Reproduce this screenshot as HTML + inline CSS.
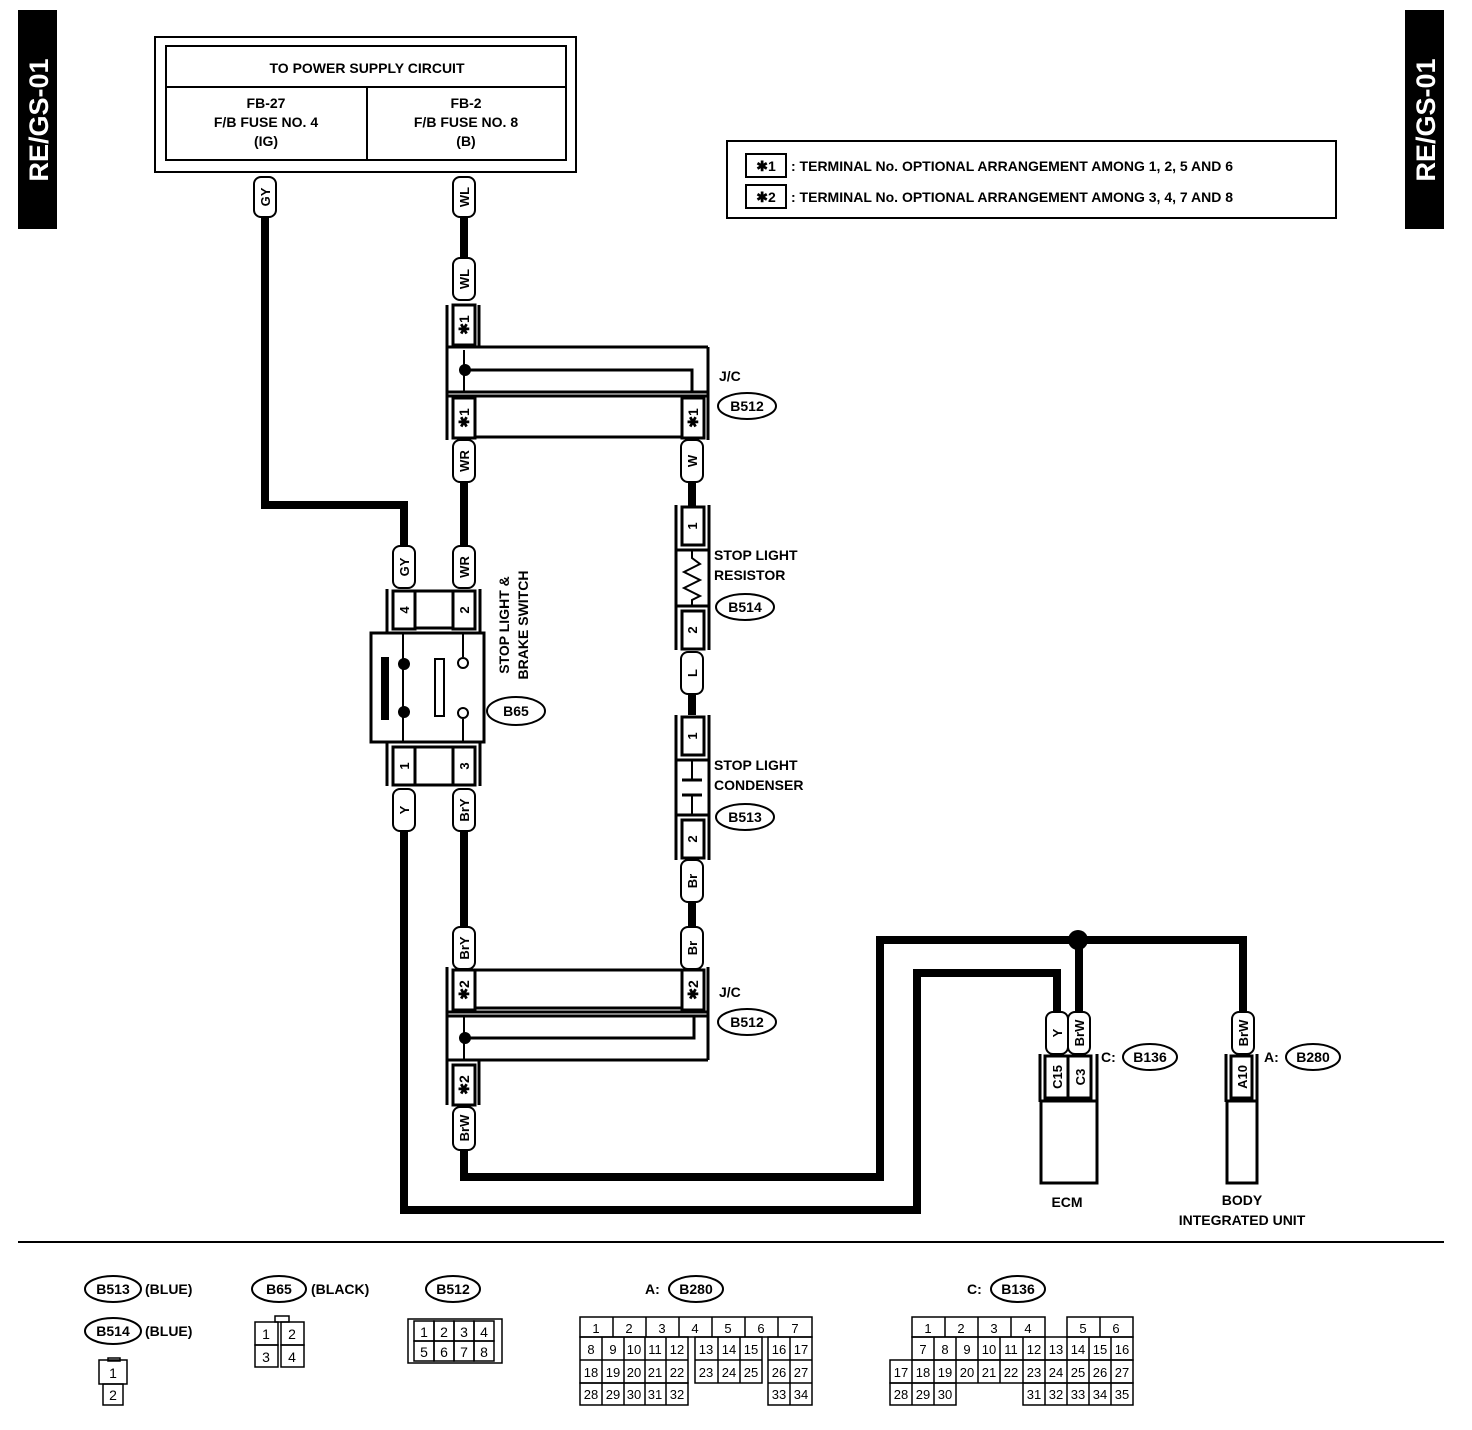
<!DOCTYPE html>
<html><head><meta charset="utf-8"><style>
html,body{margin:0;padding:0;background:#fff;}
svg{display:block;}
text{font-family:"Liberation Sans",Arial,sans-serif;font-weight:bold;fill:#000;}
.n text{font-weight:normal;}
</style></head><body>
<svg width="1472" height="1430" viewBox="0 0 1472 1430" xmlns="http://www.w3.org/2000/svg">
<rect x="18" y="10" width="39" height="219" fill="#000"/>
<text transform="translate(48,120) rotate(-90)" text-anchor="middle" font-size="27" style="fill:#fff">RE/GS-01</text>
<rect x="1405" y="10" width="39" height="219" fill="#000"/>
<text transform="translate(1435,120) rotate(-90)" text-anchor="middle" font-size="27" style="fill:#fff">RE/GS-01</text>

<rect x="155" y="37" width="421" height="135" fill="none" stroke="#000" stroke-width="2"/>
<rect x="166" y="46" width="400" height="114" fill="none" stroke="#000" stroke-width="2"/>
<line x1="166" y1="87" x2="566" y2="87" stroke="#000" stroke-width="2"/>
<line x1="367" y1="87" x2="367" y2="160" stroke="#000" stroke-width="2"/>
<text x="367" y="73" text-anchor="middle" font-size="14">TO POWER SUPPLY CIRCUIT</text>
<text x="266" y="108" text-anchor="middle" font-size="14">FB-27</text>
<text x="266" y="127" text-anchor="middle" font-size="14">F/B FUSE NO. 4</text>
<text x="266" y="146" text-anchor="middle" font-size="14">(IG)</text>
<text x="466" y="108" text-anchor="middle" font-size="14">FB-2</text>
<text x="466" y="127" text-anchor="middle" font-size="14">F/B FUSE NO. 8</text>
<text x="466" y="146" text-anchor="middle" font-size="14">(B)</text>

<rect x="727" y="141" width="609" height="77" fill="none" stroke="#000" stroke-width="2"/>
<rect x="746" y="154" width="40" height="23" fill="none" stroke="#000" stroke-width="2"/>
<text x="766" y="171" text-anchor="middle" font-size="14">✱1</text>
<text x="791" y="171" font-size="14">: TERMINAL No. OPTIONAL ARRANGEMENT AMONG 1, 2, 5 AND 6</text>
<rect x="746" y="185" width="40" height="23" fill="none" stroke="#000" stroke-width="2"/>
<text x="766" y="202" text-anchor="middle" font-size="14">✱2</text>
<text x="791" y="202" font-size="14">: TERMINAL No. OPTIONAL ARRANGEMENT AMONG 3, 4, 7 AND 8</text>

<g fill="none" stroke="#000" stroke-width="8" stroke-linejoin="miter">
<polyline points="265,216 265,505 404,505 404,546"/>
<line x1="464" y1="216" x2="464" y2="258"/>
<line x1="464" y1="482" x2="464" y2="546"/>
<line x1="692" y1="482" x2="692" y2="507"/>
<line x1="692" y1="694" x2="692" y2="715"/>
<line x1="692" y1="902" x2="692" y2="927"/>
<line x1="464" y1="830" x2="464" y2="927"/>
<polyline points="404,830 404,1210 917,1210 917,973 1057,973 1057,1012"/>
<polyline points="464,1150 464,1177 880,1177 880,940 1243,940 1243,1012"/>
<line x1="1079" y1="940" x2="1079" y2="1012"/>
</g>
<circle cx="1078" cy="940" r="10" fill="#000"/>

<g fill="#fff" stroke="#000" stroke-width="2">
<rect x="254" y="177" width="22" height="40" rx="7"/>
<rect x="453" y="177" width="22" height="40" rx="7"/>
<rect x="453" y="258" width="22" height="42" rx="7"/>
<rect x="453" y="440" width="22" height="42" rx="7"/>
<rect x="681" y="440" width="22" height="42" rx="7"/>
<rect x="393" y="546" width="22" height="42" rx="7"/>
<rect x="453" y="546" width="22" height="42" rx="7"/>
<rect x="681" y="652" width="22" height="42" rx="7"/>
<rect x="393" y="789" width="22" height="42" rx="7"/>
<rect x="453" y="789" width="22" height="42" rx="7"/>
<rect x="681" y="860" width="22" height="42" rx="7"/>
<rect x="453" y="927" width="22" height="42" rx="7"/>
<rect x="681" y="927" width="22" height="42" rx="7"/>
<rect x="453" y="1107" width="22" height="43" rx="7"/>
<rect x="1046" y="1012" width="22" height="42" rx="7"/>
<rect x="1068" y="1012" width="22" height="42" rx="7"/>
<rect x="1232" y="1012" width="22" height="42" rx="7"/>
</g>
<g font-size="13">
<text transform="translate(270,197) rotate(-90)" text-anchor="middle">GY</text>
<text transform="translate(469,197) rotate(-90)" text-anchor="middle">WL</text>
<text transform="translate(469,279) rotate(-90)" text-anchor="middle">WL</text>
<text transform="translate(469,461) rotate(-90)" text-anchor="middle">WR</text>
<text transform="translate(697,461) rotate(-90)" text-anchor="middle">W</text>
<text transform="translate(409,567) rotate(-90)" text-anchor="middle">GY</text>
<text transform="translate(469,567) rotate(-90)" text-anchor="middle">WR</text>
<text transform="translate(697,673) rotate(-90)" text-anchor="middle">L</text>
<text transform="translate(409,810) rotate(-90)" text-anchor="middle">Y</text>
<text transform="translate(469,810) rotate(-90)" text-anchor="middle">BrY</text>
<text transform="translate(697,881) rotate(-90)" text-anchor="middle">Br</text>
<text transform="translate(469,948) rotate(-90)" text-anchor="middle">BrY</text>
<text transform="translate(697,948) rotate(-90)" text-anchor="middle">Br</text>
<text transform="translate(469,1128) rotate(-90)" text-anchor="middle">BrW</text>
<text transform="translate(1062,1033) rotate(-90)" text-anchor="middle">Y</text>
<text transform="translate(1084,1033) rotate(-90)" text-anchor="middle">BrW</text>
<text transform="translate(1248,1033) rotate(-90)" text-anchor="middle">BrW</text>
</g>

<g fill="none" stroke="#000" stroke-width="3">
<line x1="447" y1="305" x2="447" y2="440"/>
<line x1="479" y1="305" x2="479" y2="347"/>
<rect x="453" y="305" width="22" height="40"/>
<line x1="447" y1="347" x2="708" y2="347"/>
<line x1="708" y1="347" x2="708" y2="440"/>
<line x1="447" y1="392" x2="708" y2="392"/>
<line x1="447" y1="396" x2="708" y2="396"/>
<rect x="453" y="398" width="22" height="40"/>
<rect x="682" y="398" width="22" height="40"/>
<line x1="475" y1="437" x2="682" y2="437"/>
<polyline points="464,350 464,392" stroke-width="2"/>
<polyline points="464,370 692,370 692,392" stroke-width="3"/>
</g>
<circle cx="465" cy="370" r="6" fill="#000"/>
<text transform="translate(469,325) rotate(-90)" text-anchor="middle" font-size="14">✱1</text>
<text transform="translate(469,418) rotate(-90)" text-anchor="middle" font-size="14">✱1</text>
<text transform="translate(698,418) rotate(-90)" text-anchor="middle" font-size="14">✱1</text>
<text x="719" y="381" font-size="14">J/C</text>
<ellipse cx="747" cy="406" rx="29" ry="13" fill="none" stroke="#000" stroke-width="2"/>
<text x="747" y="411" text-anchor="middle" font-size="14">B512</text>

<g fill="none" stroke="#000" stroke-width="3">
<line x1="447" y1="967" x2="447" y2="1105"/>
<line x1="708" y1="967" x2="708" y2="1060"/>
<rect x="453" y="970" width="22" height="40"/>
<rect x="682" y="970" width="22" height="40"/>
<line x1="475" y1="970" x2="682" y2="970"/>
<line x1="475" y1="1008" x2="682" y2="1008"/>
<line x1="447" y1="1012" x2="708" y2="1012"/>
<line x1="447" y1="1016" x2="708" y2="1016"/>
<line x1="447" y1="1060" x2="708" y2="1060"/>
<line x1="464" y1="1016" x2="464" y2="1060" stroke-width="2"/>
<polyline points="464,1038 694,1038 694,1016"/>
<rect x="453" y="1065" width="22" height="40"/>
<line x1="479" y1="1060" x2="479" y2="1105"/>
</g>
<circle cx="465" cy="1038" r="6" fill="#000"/>
<text transform="translate(469,990) rotate(-90)" text-anchor="middle" font-size="14">✱2</text>
<text transform="translate(698,990) rotate(-90)" text-anchor="middle" font-size="14">✱2</text>
<text transform="translate(469,1085) rotate(-90)" text-anchor="middle" font-size="14">✱2</text>
<text x="719" y="997" font-size="14">J/C</text>
<ellipse cx="747" cy="1022" rx="29" ry="13" fill="none" stroke="#000" stroke-width="2"/>
<text x="747" y="1027" text-anchor="middle" font-size="14">B512</text>

<g fill="none" stroke="#000" stroke-width="3">
<line x1="676" y1="505" x2="676" y2="650"/>
<line x1="709" y1="505" x2="709" y2="650"/>
<rect x="682" y="507" width="22" height="38"/>
<line x1="676" y1="550" x2="709" y2="550"/>
<line x1="676" y1="606" x2="709" y2="606"/>
<rect x="682" y="611" width="22" height="38"/>
<polyline points="692,550 692,558 700,564 684,572 700,580 684,588 700,596 692,600 692,606" stroke-width="2"/>
</g>
<text transform="translate(697,526) rotate(-90)" text-anchor="middle" font-size="13">1</text>
<text transform="translate(697,630) rotate(-90)" text-anchor="middle" font-size="13">2</text>
<text x="714" y="560" font-size="14">STOP LIGHT</text>
<text x="714" y="580" font-size="14">RESISTOR</text>
<ellipse cx="745" cy="607" rx="29" ry="13" fill="none" stroke="#000" stroke-width="2"/>
<text x="745" y="612" text-anchor="middle" font-size="14">B514</text>

<g fill="none" stroke="#000" stroke-width="3">
<line x1="676" y1="715" x2="676" y2="860"/>
<line x1="709" y1="715" x2="709" y2="860"/>
<rect x="682" y="717" width="22" height="38"/>
<line x1="676" y1="760" x2="709" y2="760"/>
<line x1="676" y1="815" x2="709" y2="815"/>
<rect x="682" y="820" width="22" height="38"/>
<line x1="692" y1="760" x2="692" y2="780" stroke-width="2"/>
<line x1="692" y1="795" x2="692" y2="815" stroke-width="2"/>
<line x1="682" y1="780" x2="702" y2="780"/>
<line x1="682" y1="795" x2="702" y2="795"/>
</g>
<text transform="translate(697,736) rotate(-90)" text-anchor="middle" font-size="13">1</text>
<text transform="translate(697,839) rotate(-90)" text-anchor="middle" font-size="13">2</text>
<text x="714" y="770" font-size="14">STOP LIGHT</text>
<text x="714" y="790" font-size="14">CONDENSER</text>
<ellipse cx="745" cy="817" rx="29" ry="13" fill="none" stroke="#000" stroke-width="2"/>
<text x="745" y="822" text-anchor="middle" font-size="14">B513</text>

<g fill="none" stroke="#000" stroke-width="3">
<line x1="387" y1="589" x2="387" y2="633"/>
<line x1="480" y1="589" x2="480" y2="633"/>
<rect x="393" y="591" width="22" height="38"/>
<rect x="453" y="591" width="22" height="38"/>
<line x1="415" y1="591" x2="453" y2="591"/>
<line x1="415" y1="628" x2="453" y2="628"/>
<rect x="371" y="633" width="113" height="109"/>
<line x1="387" y1="742" x2="387" y2="786"/>
<line x1="480" y1="742" x2="480" y2="786"/>
<rect x="393" y="747" width="22" height="38"/>
<rect x="453" y="747" width="22" height="38"/>
<line x1="415" y1="747" x2="453" y2="747"/>
<line x1="415" y1="785" x2="453" y2="785"/>
<line x1="403" y1="633" x2="403" y2="742" stroke-width="2"/>
<line x1="463" y1="633" x2="463" y2="657" stroke-width="2"/>
<line x1="463" y1="719" x2="463" y2="742" stroke-width="2"/>
<rect x="435" y="659" width="9" height="57" stroke-width="2"/>
</g>
<rect x="381" y="657" width="8" height="63" fill="#000"/>
<circle cx="404" cy="664" r="6" fill="#000"/>
<circle cx="404" cy="712" r="6" fill="#000"/>
<circle cx="463" cy="663" r="5" fill="#fff" stroke="#000" stroke-width="2"/>
<circle cx="463" cy="713" r="5" fill="#fff" stroke="#000" stroke-width="2"/>
<text transform="translate(409,610) rotate(-90)" text-anchor="middle" font-size="13">4</text>
<text transform="translate(469,610) rotate(-90)" text-anchor="middle" font-size="13">2</text>
<text transform="translate(409,766) rotate(-90)" text-anchor="middle" font-size="13">1</text>
<text transform="translate(469,766) rotate(-90)" text-anchor="middle" font-size="13">3</text>
<text transform="translate(509,625) rotate(-90)" text-anchor="middle" font-size="14">STOP LIGHT &amp;</text>
<text transform="translate(528,625) rotate(-90)" text-anchor="middle" font-size="14">BRAKE SWITCH</text>
<ellipse cx="516" cy="711" rx="29" ry="14" fill="none" stroke="#000" stroke-width="2"/>
<text x="516" y="716" text-anchor="middle" font-size="14">B65</text>

<g fill="none" stroke="#000" stroke-width="3">
<line x1="1040" y1="1054" x2="1040" y2="1102"/>
<line x1="1097" y1="1054" x2="1097" y2="1102"/>
<rect x="1045" y="1056" width="23" height="42"/>
<rect x="1068" y="1056" width="23" height="42"/>
<rect x="1041" y="1101" width="56" height="82"/>
<line x1="1226" y1="1054" x2="1226" y2="1102"/>
<line x1="1257" y1="1054" x2="1257" y2="1102"/>
<rect x="1231" y="1056" width="21" height="42"/>
<rect x="1227" y="1101" width="30" height="82"/>
</g>
<text transform="translate(1062,1077) rotate(-90)" text-anchor="middle" font-size="13">C15</text>
<text transform="translate(1085,1077) rotate(-90)" text-anchor="middle" font-size="13">C3</text>
<text transform="translate(1247,1077) rotate(-90)" text-anchor="middle" font-size="13">A10</text>
<text x="1101" y="1062" font-size="14">C:</text>
<ellipse cx="1150" cy="1057" rx="27" ry="13" fill="none" stroke="#000" stroke-width="2"/>
<text x="1150" y="1062" text-anchor="middle" font-size="14">B136</text>
<text x="1264" y="1062" font-size="14">A:</text>
<ellipse cx="1313" cy="1057" rx="27" ry="13" fill="none" stroke="#000" stroke-width="2"/>
<text x="1313" y="1062" text-anchor="middle" font-size="14">B280</text>
<text x="1067" y="1207" text-anchor="middle" font-size="14">ECM</text>
<text x="1242" y="1205" text-anchor="middle" font-size="14">BODY</text>
<text x="1242" y="1225" text-anchor="middle" font-size="14">INTEGRATED UNIT</text>

<line x1="18" y1="1242" x2="1444" y2="1242" stroke="#000" stroke-width="2"/>

<g font-size="14">
<ellipse cx="113" cy="1289" rx="28" ry="13" fill="none" stroke="#000" stroke-width="2"/>
<text x="113" y="1294" text-anchor="middle">B513</text>
<text x="145" y="1294">(BLUE)</text>
<ellipse cx="113" cy="1331" rx="28" ry="13" fill="none" stroke="#000" stroke-width="2"/>
<text x="113" y="1336" text-anchor="middle">B514</text>
<text x="145" y="1336">(BLUE)</text>
<ellipse cx="279" cy="1289" rx="27" ry="13" fill="none" stroke="#000" stroke-width="2"/>
<text x="279" y="1294" text-anchor="middle">B65</text>
<text x="311" y="1294">(BLACK)</text>
<ellipse cx="453" cy="1289" rx="27" ry="13" fill="none" stroke="#000" stroke-width="2"/>
<text x="453" y="1294" text-anchor="middle">B512</text>
</g>
<g fill="none" stroke="#000" stroke-width="1.5">
<rect x="108" y="1358" width="12" height="3"/>
<rect x="99" y="1360" width="28" height="24"/>
<rect x="103" y="1384" width="20" height="21"/>
<rect x="275" y="1316" width="14" height="6"/>
<rect x="255" y="1322" width="23" height="23"/><rect x="281" y="1322" width="23" height="23"/>
<rect x="255" y="1345" width="23" height="22"/><rect x="281" y="1345" width="23" height="22"/>
<rect x="408" y="1319" width="94" height="44"/>
<rect x="414" y="1321" width="20" height="20"/><rect x="434" y="1321" width="20" height="20"/><rect x="454" y="1321" width="20" height="20"/><rect x="474" y="1321" width="20" height="20"/>
<rect x="414" y="1341" width="20" height="20"/><rect x="434" y="1341" width="20" height="20"/><rect x="454" y="1341" width="20" height="20"/><rect x="474" y="1341" width="20" height="20"/>
</g>
<g class="n" font-size="14" text-anchor="middle">
<text x="113" y="1378">1</text><text x="113" y="1400">2</text>
<text x="266" y="1339">1</text><text x="292" y="1339">2</text>
<text x="266" y="1362">3</text><text x="292" y="1362">4</text>
<text x="424" y="1337">1</text><text x="444" y="1337">2</text><text x="464" y="1337">3</text><text x="484" y="1337">4</text>
<text x="424" y="1357">5</text><text x="444" y="1357">6</text><text x="464" y="1357">7</text><text x="484" y="1357">8</text>
</g>

<text x="645" y="1294" font-size="14">A:</text>
<ellipse cx="696" cy="1289" rx="27" ry="13" fill="none" stroke="#000" stroke-width="2"/>
<text x="696" y="1294" text-anchor="middle" font-size="14">B280</text>
<g fill="none" stroke="#000" stroke-width="1.5">
<rect x="580" y="1317" width="232" height="20"/>
<line x1="613" y1="1317" x2="613" y2="1337"/><line x1="646" y1="1317" x2="646" y2="1337"/><line x1="679" y1="1317" x2="679" y2="1337"/><line x1="712" y1="1317" x2="712" y2="1337"/><line x1="745" y1="1317" x2="745" y2="1337"/><line x1="778" y1="1317" x2="778" y2="1337"/>
<rect x="580" y="1337" width="108" height="46"/>
<rect x="695" y="1337" width="67" height="46"/>
<rect x="768" y="1337" width="44" height="68"/>
<rect x="580" y="1383" width="108" height="22"/>
<line x1="580" y1="1360" x2="688" y2="1360"/><line x1="695" y1="1360" x2="762" y2="1360"/><line x1="768" y1="1360" x2="812" y2="1360"/><line x1="768" y1="1383" x2="812" y2="1383"/>
<line x1="602" y1="1337" x2="602" y2="1405"/><line x1="624" y1="1337" x2="624" y2="1405"/><line x1="645" y1="1337" x2="645" y2="1405"/><line x1="666" y1="1337" x2="666" y2="1405"/>
<line x1="718" y1="1337" x2="718" y2="1383"/><line x1="740" y1="1337" x2="740" y2="1383"/>
<line x1="790" y1="1337" x2="790" y2="1405"/>
</g>
<g class="n" font-size="13" text-anchor="middle">
<text x="596" y="1333">1</text><text x="629" y="1333">2</text><text x="662" y="1333">3</text><text x="695" y="1333">4</text><text x="728" y="1333">5</text><text x="761" y="1333">6</text><text x="795" y="1333">7</text>
<text x="591" y="1354">8</text><text x="613" y="1354">9</text><text x="634" y="1354">10</text><text x="655" y="1354">11</text><text x="677" y="1354">12</text><text x="706" y="1354">13</text><text x="729" y="1354">14</text><text x="751" y="1354">15</text><text x="779" y="1354">16</text><text x="801" y="1354">17</text>
<text x="591" y="1377">18</text><text x="613" y="1377">19</text><text x="634" y="1377">20</text><text x="655" y="1377">21</text><text x="677" y="1377">22</text><text x="706" y="1377">23</text><text x="729" y="1377">24</text><text x="751" y="1377">25</text><text x="779" y="1377">26</text><text x="801" y="1377">27</text>
<text x="591" y="1399">28</text><text x="613" y="1399">29</text><text x="634" y="1399">30</text><text x="655" y="1399">31</text><text x="677" y="1399">32</text><text x="779" y="1399">33</text><text x="801" y="1399">34</text>
</g>

<text x="967" y="1294" font-size="14">C:</text>
<ellipse cx="1018" cy="1289" rx="27" ry="13" fill="none" stroke="#000" stroke-width="2"/>
<text x="1018" y="1294" text-anchor="middle" font-size="14">B136</text>
<g fill="none" stroke="#000" stroke-width="1.5">
<rect x="912" y="1317" width="133" height="20"/>
<line x1="945" y1="1317" x2="945" y2="1337"/><line x1="978" y1="1317" x2="978" y2="1337"/><line x1="1011" y1="1317" x2="1011" y2="1337"/>
<rect x="1067" y="1317" width="66" height="20"/><line x1="1100" y1="1317" x2="1100" y2="1337"/>
<rect x="912" y="1337" width="221" height="23"/>
<rect x="890" y="1360" width="243" height="23"/>
<rect x="890" y="1383" width="66" height="22"/>
<rect x="1023" y="1383" width="110" height="22"/>
<line x1="934" y1="1337" x2="934" y2="1405"/><line x1="956" y1="1337" x2="956" y2="1383"/><line x1="978" y1="1337" x2="978" y2="1383"/><line x1="1000" y1="1337" x2="1000" y2="1383"/><line x1="1023" y1="1337" x2="1023" y2="1383"/><line x1="1045" y1="1337" x2="1045" y2="1405"/><line x1="1067" y1="1337" x2="1067" y2="1405"/><line x1="1089" y1="1337" x2="1089" y2="1405"/><line x1="1111" y1="1337" x2="1111" y2="1405"/>
<line x1="912" y1="1360" x2="912" y2="1405"/>
</g>
<g class="n" font-size="13" text-anchor="middle">
<text x="928" y="1333">1</text><text x="961" y="1333">2</text><text x="994" y="1333">3</text><text x="1028" y="1333">4</text><text x="1083" y="1333">5</text><text x="1116" y="1333">6</text>
<text x="923" y="1354">7</text><text x="945" y="1354">8</text><text x="967" y="1354">9</text><text x="989" y="1354">10</text><text x="1011" y="1354">11</text><text x="1034" y="1354">12</text><text x="1056" y="1354">13</text><text x="1078" y="1354">14</text><text x="1100" y="1354">15</text><text x="1122" y="1354">16</text>
<text x="901" y="1377">17</text><text x="923" y="1377">18</text><text x="945" y="1377">19</text><text x="967" y="1377">20</text><text x="989" y="1377">21</text><text x="1011" y="1377">22</text><text x="1034" y="1377">23</text><text x="1056" y="1377">24</text><text x="1078" y="1377">25</text><text x="1100" y="1377">26</text><text x="1122" y="1377">27</text>
<text x="901" y="1399">28</text><text x="923" y="1399">29</text><text x="945" y="1399">30</text><text x="1034" y="1399">31</text><text x="1056" y="1399">32</text><text x="1078" y="1399">33</text><text x="1100" y="1399">34</text><text x="1122" y="1399">35</text>
</g>
</svg>
</body></html>
